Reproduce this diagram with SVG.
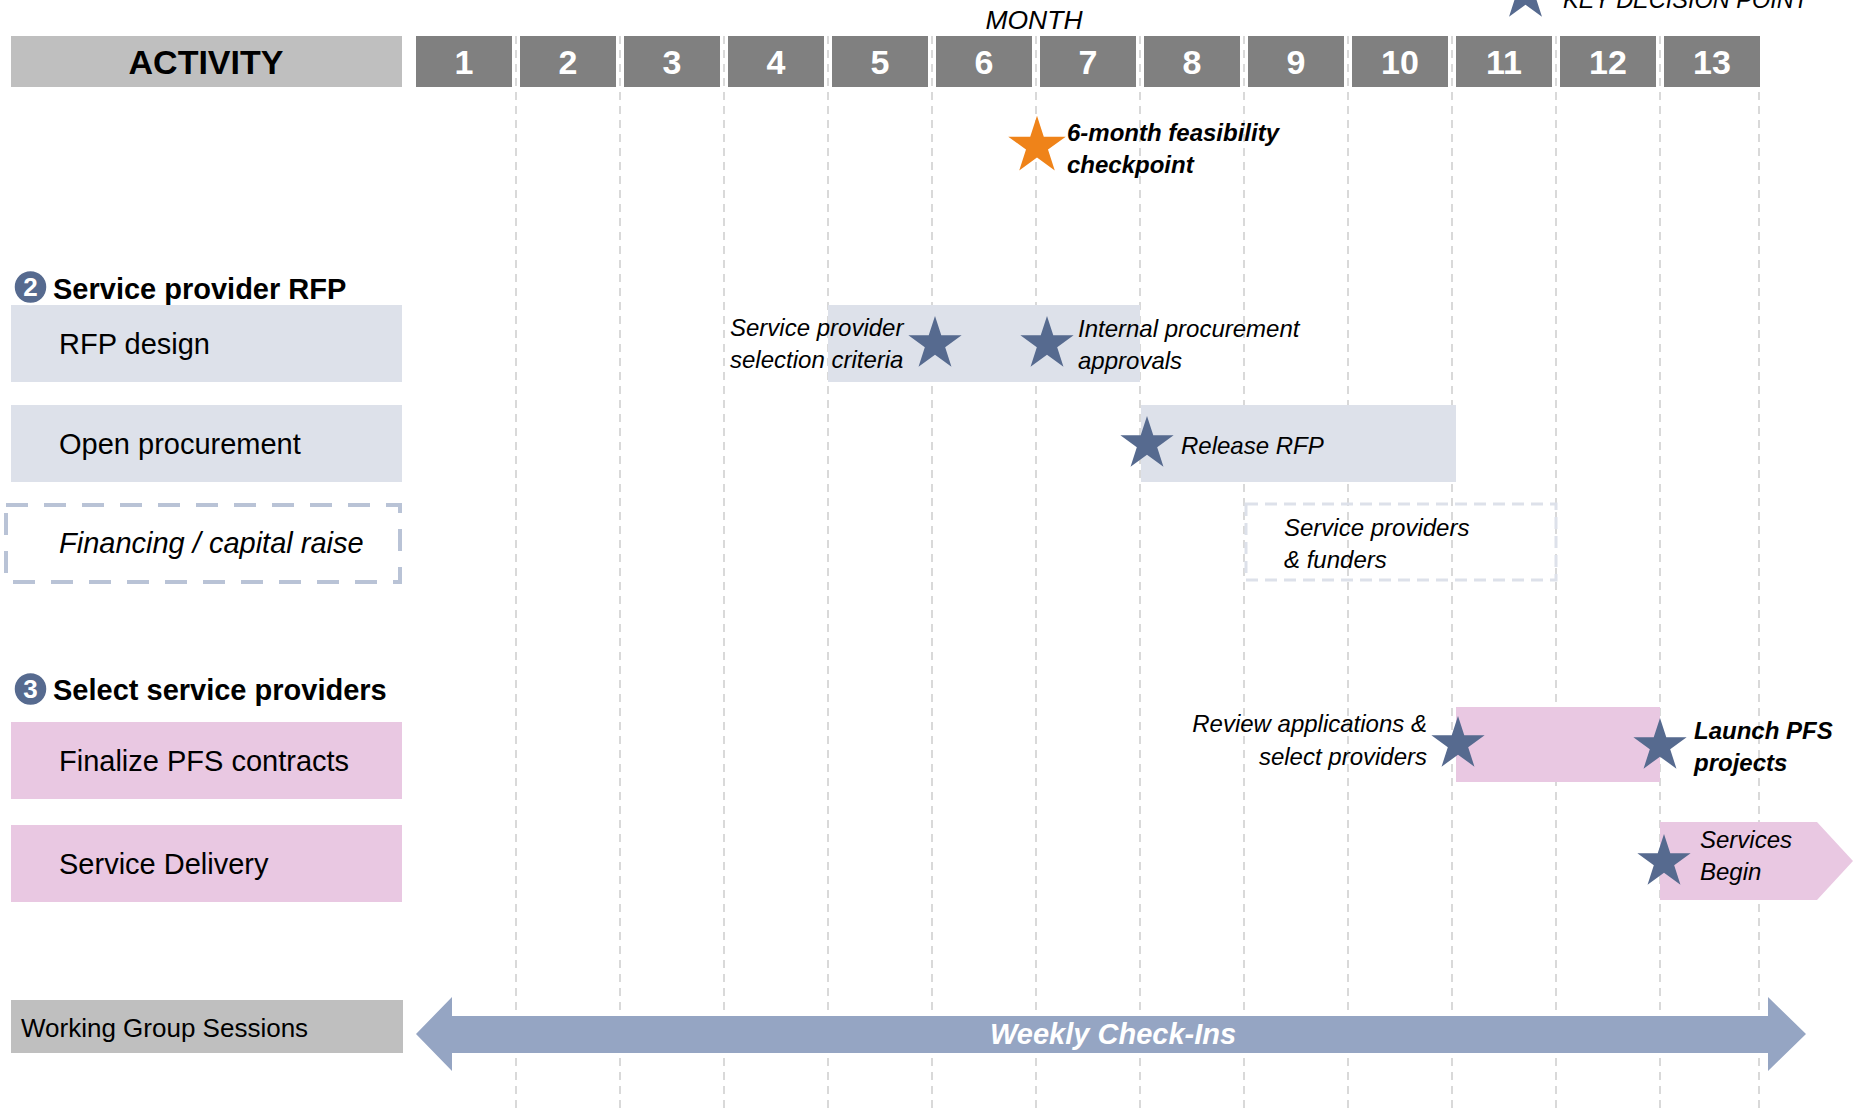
<svg xmlns="http://www.w3.org/2000/svg" xmlns:xlink="http://www.w3.org/1999/xlink" width="1853" height="1113" viewBox="0 0 1853 1113">
<style>
text{font-family:"Liberation Sans",Arial,sans-serif;fill:#000}
.grid line{stroke:#d9d9d9;stroke-width:2;stroke-dasharray:8 6}
.mon{fill:#808080}
.mnum{fill:#fff;font-weight:bold;font-size:34px;text-anchor:middle}
.act{font-size:29px}
.note{font-size:24px;font-style:italic}
.bnote{font-size:24px;font-style:italic;font-weight:bold}
.blue{fill:#dde1ea}
.pink{fill:#e9c8e2}
.grey{fill:#bfbfbf}
.star{fill:#566a8f}
.sec{font-size:29px;font-weight:bold}
.badge{fill:#566a8f;stroke:#fff;stroke-width:2.5}
.badgeT{fill:#fff;font-size:26px;font-weight:bold;text-anchor:middle}
</style>
<defs>
<path id="star" d="M0,-28 L6.29,-8.66 L26.63,-8.65 L10.18,3.31 L16.46,22.65 L0,10.7 L-16.46,22.65 L-10.18,3.31 L-26.63,-8.65 L-6.29,-8.66 Z"/>
</defs>
<rect width="1853" height="1113" fill="#fff"/>

<g class="grid" id="grid">
<line x1="516" y1="36" x2="516" y2="1113"/>
<line x1="620" y1="36" x2="620" y2="1113"/>
<line x1="724" y1="36" x2="724" y2="1113"/>
<line x1="828" y1="36" x2="828" y2="1113"/>
<line x1="932" y1="36" x2="932" y2="1113"/>
<line x1="1036" y1="36" x2="1036" y2="1113"/>
<line x1="1140" y1="36" x2="1140" y2="1113"/>
<line x1="1244" y1="36" x2="1244" y2="1113"/>
<line x1="1348" y1="36" x2="1348" y2="1113"/>
<line x1="1452" y1="36" x2="1452" y2="1113"/>
<line x1="1556" y1="36" x2="1556" y2="1113"/>
<line x1="1660" y1="36" x2="1660" y2="1113"/>
<line x1="1759" y1="36" x2="1759" y2="1113"/>
</g>

<g id="header">
<text x="1034" y="29" font-size="26.5" font-style="italic" text-anchor="middle">MONTH</text>
<use xlink:href="#star" href="#star" class="star" x="1525.5" y="-6"/>
<text x="1563" y="8" font-size="23.5" font-style="italic">KEY DECISION POINT</text>
<rect class="grey" x="11" y="36" width="391" height="51"/>
<text x="206" y="74" font-size="34" font-weight="bold" text-anchor="middle">ACTIVITY</text>
<rect class="mon" x="416" y="36" width="96" height="51"/><text class="mnum" x="464" y="74">1</text>
<rect class="mon" x="520" y="36" width="96" height="51"/><text class="mnum" x="568" y="74">2</text>
<rect class="mon" x="624" y="36" width="96" height="51"/><text class="mnum" x="672" y="74">3</text>
<rect class="mon" x="728" y="36" width="96" height="51"/><text class="mnum" x="776" y="74">4</text>
<rect class="mon" x="832" y="36" width="96" height="51"/><text class="mnum" x="880" y="74">5</text>
<rect class="mon" x="936" y="36" width="96" height="51"/><text class="mnum" x="984" y="74">6</text>
<rect class="mon" x="1040" y="36" width="96" height="51"/><text class="mnum" x="1088" y="74">7</text>
<rect class="mon" x="1144" y="36" width="96" height="51"/><text class="mnum" x="1192" y="74">8</text>
<rect class="mon" x="1248" y="36" width="96" height="51"/><text class="mnum" x="1296" y="74">9</text>
<rect class="mon" x="1352" y="36" width="96" height="51"/><text class="mnum" x="1400" y="74">10</text>
<rect class="mon" x="1456" y="36" width="96" height="51"/><text class="mnum" x="1504" y="74">11</text>
<rect class="mon" x="1560" y="36" width="96" height="51"/><text class="mnum" x="1608" y="74">12</text>
<rect class="mon" x="1664" y="36" width="96" height="51"/><text class="mnum" x="1712" y="74">13</text>
</g>

<g id="feasibility-checkpoint">
<use xlink:href="#star" href="#star" fill="#ef8319" transform="translate(1037,146) scale(1.08)"/>
<text class="bnote" x="1067" y="141">6-month feasibility</text>
<text class="bnote" x="1067" y="173">checkpoint</text>
</g>

<g id="section-2">
<text class="sec" x="53" y="299">Service provider RFP</text>
</g>

<g id="rfp-design">
<rect class="blue" x="11" y="305" width="391" height="77"/>
<text class="act" x="59" y="354">RFP design</text>
<rect class="blue" x="828" y="305" width="312" height="77"/>
<use xlink:href="#star" href="#star" class="star" x="935" y="344"/>
<use xlink:href="#star" href="#star" class="star" x="1047" y="344"/>
<text class="note" x="730" y="336">Service provider</text>
<text class="note" x="730" y="368">selection criteria</text>
<text class="note" x="1078" y="337">Internal procurement</text>
<text class="note" x="1078" y="369">approvals</text>
</g>

<g id="badge-2">
<circle class="badge" cx="30.5" cy="287" r="17"/>
<text class="badgeT" x="30.5" y="296">2</text>
</g>

<g id="open-procurement">
<rect class="blue" x="11" y="405" width="391" height="77"/>
<text class="act" x="59" y="454">Open procurement</text>
<rect class="blue" x="1141" y="405" width="315" height="77"/>
<use xlink:href="#star" href="#star" class="star" x="1147" y="444"/>
<text class="note" x="1181" y="454">Release RFP</text>
</g>

<g id="financing">
<rect x="6" y="505" width="394" height="77" fill="none" stroke="#b9c3d6" stroke-width="4" stroke-dasharray="22 16"/>
<text class="act" x="59" y="553" font-style="italic">Financing / capital raise</text>
<rect x="1246" y="504" width="310" height="76" fill="none" stroke="#dde1ea" stroke-width="3" stroke-dasharray="12 7"/>
<text class="note" x="1284" y="536">Service providers</text>
<text class="note" x="1284" y="568">&amp; funders</text>
</g>

<g id="section-3">
<text class="sec" x="53" y="700">Select service providers</text>
<circle class="badge" cx="30.5" cy="689" r="17"/>
<text class="badgeT" x="30.5" y="698">3</text>
</g>

<g id="finalize-contracts">
<rect class="pink" x="11" y="722" width="391" height="77"/>
<text class="act" x="59" y="771">Finalize PFS contracts</text>
<rect class="pink" x="1456" y="707" width="204" height="75"/>
<use xlink:href="#star" href="#star" class="star" x="1458" y="744"/>
<use xlink:href="#star" href="#star" class="star" x="1660" y="746"/>
<text class="note" x="1427" y="732" text-anchor="end">Review applications &amp;</text>
<text class="note" x="1427" y="765" text-anchor="end">select providers</text>
<text class="bnote" x="1694" y="739">Launch PFS</text>
<text class="bnote" x="1694" y="771">projects</text>
</g>

<g id="service-delivery">
<rect class="pink" x="11" y="825" width="391" height="77"/>
<text class="act" x="59" y="874">Service Delivery</text>
<polygon class="pink" points="1660,822 1817,822 1853,861 1817,900 1660,900"/>
<use xlink:href="#star" href="#star" class="star" x="1664" y="862"/>
<text class="note" x="1700" y="848">Services</text>
<text class="note" x="1700" y="880">Begin</text>
</g>

<g id="working-group">
<rect class="grey" x="11" y="1000" width="392" height="53"/>
<text x="21" y="1037" font-size="26">Working Group Sessions</text>
</g>

<g id="connectors">
<polygon fill="#95a5c3" points="416,1034 452,997 452,1016 1768,1016 1768,997 1806,1034 1768,1071 1768,1053 452,1053 452,1071"/>
<text x="990" y="1044" font-size="29" font-weight="bold" font-style="italic" style="fill:#fff">Weekly Check-Ins</text>
</g>
</svg>
